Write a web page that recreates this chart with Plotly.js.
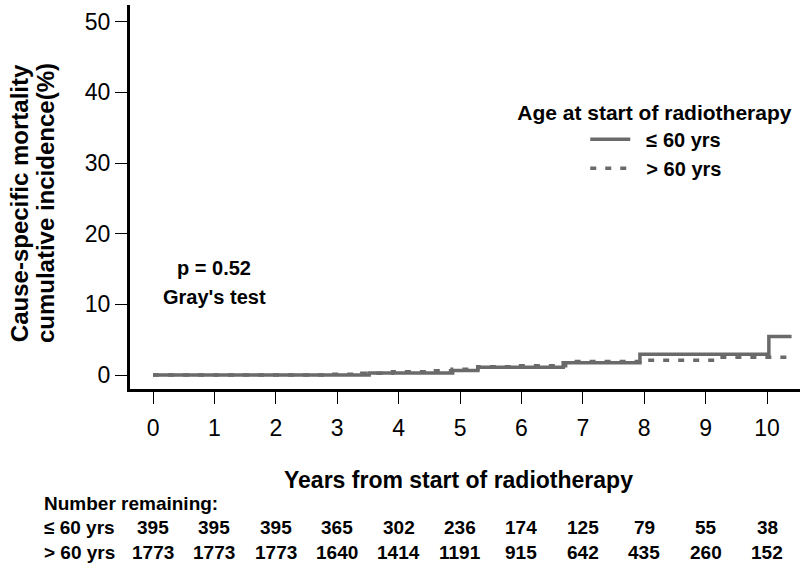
<!DOCTYPE html>
<html>
<head>
<meta charset="utf-8">
<script src="https://cdn.plot.ly/plotly-3.0.1.min.js"></script>
<style>
  body { margin: 0; background: #fff; }
  #chart { width: 800px; height: 568px; }
</style>
</head>
<body>
<div id="chart"></div>
<script>
// cumulative incidence (%) step curves
var le60Years = [0, 3.52, 4.88, 5.29, 6.68, 7.93, 10.03, 10.4];
var le60Inc   = [0, 0.3, 0.65, 1.1, 1.75, 2.95, 5.45, 5.45];

var gt60Years = [0, 2.9, 3.4, 3.9, 4.6, 4.87, 5.29, 5.9, 6.72, 7.93, 9.2, 10.4];
var gt60Inc   = [0, 0.12, 0.24, 0.45, 0.6, 0.8, 1.17, 1.3, 1.9, 2.1, 2.5, 2.5];

// number at risk table
var tableYears = [0, 1, 2, 3, 4, 5, 6, 7, 8, 9, 10];
var remainLe60 = [395, 395, 395, 365, 302, 236, 174, 125, 79, 55, 38];
var remainGt60 = [1773, 1773, 1773, 1640, 1414, 1191, 915, 642, 435, 260, 152];
var rowLabels = ['\u2264 60 yrs', '> 60 yrs'];

var FONT = 'Liberation Sans, Arial, sans-serif';
var LINE_COLOR = '#6a6a6a';

var traces = [
	{
		x: le60Years, y: le60Inc,
		mode: 'lines', line: { shape: 'hv', color: LINE_COLOR, width: 3.5 },
		name: '\u00a0\u00a0\u2264 60 yrs'
	},
	{
		x: gt60Years, y: gt60Inc,
		mode: 'lines', line: { shape: 'hv', color: LINE_COLOR, width: 3.5, dash: '6px,9px' },
		name: '\u00a0\u00a0> 60 yrs'
	}
];

var annotations = [];
var boldFont = function (size) { return { family: FONT, size: size, weight: 'bold', color: 'black' }; };

// y title, one annotation per line so the spacing can be set
annotations.push({
	xref: 'paper', yref: 'paper', x: -0.1657, y: 0.484,
	xanchor: 'center', yanchor: 'middle', textangle: -90, showarrow: false,
	text: 'Cause-specific mortality', font: boldFont(24)
});
annotations.push({
	xref: 'paper', yref: 'paper', x: -0.1269, y: 0.484,
	xanchor: 'center', yanchor: 'middle', textangle: -90, showarrow: false,
	text: 'cumulative incidence(%)', font: boldFont(24)
});

// x title
annotations.push({
	xref: 'paper', yref: 'paper', x: 0.49, y: -0.238,
	xanchor: 'center', yanchor: 'middle', showarrow: false,
	text: 'Years from start of radiotherapy', font: boldFont(23)
});

// p value
annotations.push({
	x: 1.0, y: 15.2, xanchor: 'center', yanchor: 'middle', showarrow: false,
	text: 'p = 0.52', font: boldFont(20)
});
annotations.push({
	x: 1.0, y: 11.0, xanchor: 'center', yanchor: 'middle', showarrow: false,
	text: "Gray's test", font: boldFont(20)
});

// number remaining table
var tableFont = boldFont(19);
var rowY = [-0.36, -0.426];
annotations.push({
	xref: 'paper', yref: 'paper', x: -0.131, y: -0.298,
	xanchor: 'left', yanchor: 'middle', showarrow: false,
	text: 'Number remaining:', font: tableFont
});
var rows = [remainLe60, remainGt60];
for (var r = 0; r < rows.length; r++) {
	annotations.push({
		xref: 'paper', yref: 'paper', x: -0.131, y: rowY[r],
		xanchor: 'left', yanchor: 'middle', showarrow: false,
		text: rowLabels[r], font: tableFont
	});
	for (var i = 0; i < tableYears.length; i++) {
		annotations.push({
			xref: 'x', yref: 'paper', x: tableYears[i], y: rowY[r],
			xanchor: 'center', yanchor: 'middle', showarrow: false,
			text: String(rows[r][i]), font: tableFont
		});
	}
}

var layout = {
	width: 800, height: 568,
	margin: { l: 130, r: 0, t: 5, b: 179, pad: 0 },
	paper_bgcolor: 'white', plot_bgcolor: 'white',
	font: { family: FONT, color: 'black' },
	showlegend: true,
	legend: {
		x: 0.575, y: 0.772, xanchor: 'left', yanchor: 'top',
		bgcolor: 'rgba(0,0,0,0)', borderwidth: 0,
		font: boldFont(20),
		title: { text: 'Age at start of radiotherapy', side: 'top', font: boldFont(21) },
		indentation: 70, itemwidth: 40, tracegroupgap: 0
	},
	xaxis: {
		range: [-0.375, 10.537], tickvals: tableYears,
		ticks: 'outside', ticklen: 12, tickwidth: 1, tickcolor: 'black',
		tickfont: { family: FONT, size: 23, color: 'black' },
		ticklabelstandoff: 4,
		showline: true, linewidth: 3, linecolor: 'black',
		showgrid: false, zeroline: false, fixedrange: true
	},
	yaxis: {
		range: [-1.98, 52.36], tickvals: [0, 10, 20, 30, 40, 50],
		ticks: 'outside', ticklen: 12, tickwidth: 1, tickcolor: 'black',
		tickfont: { family: FONT, size: 23, color: 'black' },
		showline: true, linewidth: 3, linecolor: 'black',
		showgrid: false, zeroline: false, fixedrange: true
	},
	annotations: annotations
};

Plotly.newPlot('chart', traces, layout, { displayModeBar: false, staticPlot: true });
</script>
</body>
</html>
